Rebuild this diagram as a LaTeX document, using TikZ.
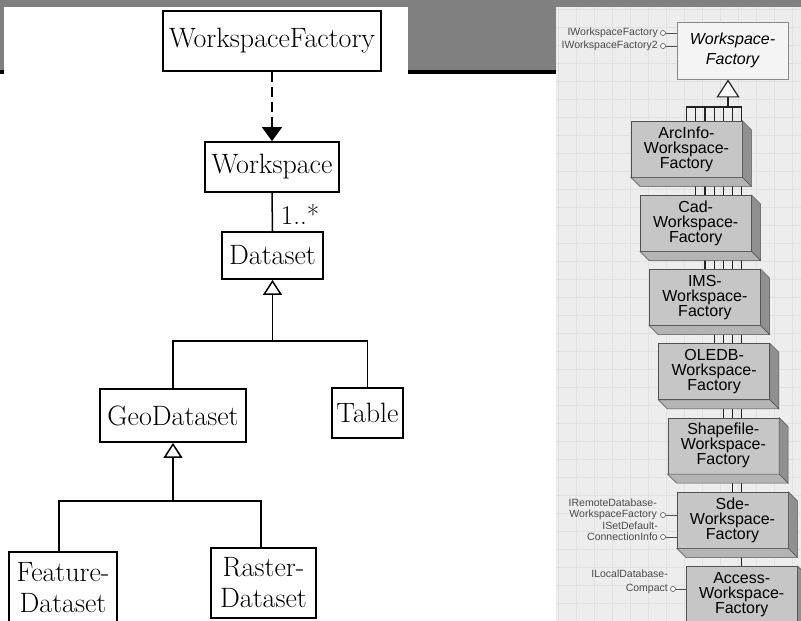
\documentclass[tikz,border=0pt]{standalone}
\usepackage{fontspec}
\newfontfamily\arialf{Liberation Sans}
\usetikzlibrary{arrows.meta}
\pgfdeclarelayer{back}
\pgfdeclarelayer{mid}
\pgfsetlayers{back,mid,main}
\definecolor{bandgray}{HTML}{808080}
\definecolor{gridbg}{HTML}{EDEDED}
\definecolor{gridln}{HTML}{E1E1E1}
\definecolor{facec}{HTML}{C6C6C6}
\definecolor{sidec}{HTML}{909090}
\definecolor{botc}{HTML}{B4B4B4}
\definecolor{edgec}{HTML}{505050}
\definecolor{lblc}{HTML}{4A4A4A}
\definecolor{absfill}{HTML}{F4F4F4}
\definecolor{absedge}{HTML}{8A8A8A}
\definecolor{rlinec}{HTML}{222222}
\begin{document}
\begin{tikzpicture}[x=1pt,y=-1pt,
  umlbox/.style={draw=black, line width=1.8pt, fill=white, inner sep=0pt, align=center,
    font=\fontsize{28}{31}\selectfont},
  umlline/.style={line width=1.5pt, draw=black},
  esribox/.style={draw=edgec, line width=0.6pt, fill=facec, minimum width=111pt,
    minimum height=56pt, inner sep=0pt, align=center, font=\arialf\fontsize{16}{15}\selectfont},
  absbox/.style={draw=absedge, line width=0.9pt, fill=absfill, minimum width=111pt,
    minimum height=57pt, inner sep=0pt, align=center, font=\arialf\itshape\fontsize{16}{19.5}\selectfont},
  rline/.style={line width=1.2pt, draw=rlinec},
  lolli/.style={circle, draw=edgec, fill=white, line width=0.6pt, minimum size=5pt, inner sep=0pt},
  lolline/.style={draw=edgec, line width=0.7pt},
  ilabel/.style={anchor=east, inner sep=0pt, text=lblc, font=\arialf\fontsize{10.5}{11}\selectfont}
]
\useasboundingbox (0,0) rectangle (801,621);
% ---------- backgrounds ----------
\begin{pgfonlayer}{back}
\fill[white] (0,0) rectangle (801,621);
\fill[bandgray] (0,0) rectangle (801,70);
\fill[black] (0,70) rectangle (556,74);
\fill[white] (4,7) rectangle (408,621);
\fill[gridbg] (556,7) rectangle (801,621);
\foreach \x in {558,576,...,792} \draw[gridln, line width=0.6pt] (\x,7) -- (\x,621);
\foreach \y in {9,27,...,621} \draw[gridln, line width=0.6pt] (556,\y) -- (801,\y);
\end{pgfonlayer}
% ---------- left UML diagram ----------
\node[umlbox, minimum width=218pt, minimum height=60pt] (wf) at (272,41) {WorkspaceFactory};
\node[umlbox, minimum width=134pt, minimum height=50pt] (ws) at (272,167) {Workspace};
\node[umlbox, minimum width=101pt, minimum height=47pt] (ds) at (272.5,255.5) {Dataset};
\node[umlbox, minimum width=146pt, minimum height=53pt] (geo) at (173,415.5) {GeoDataset};
\node[umlbox, minimum width=71pt, minimum height=50pt] (tab) at (367.5,413) {Table};
\node[umlbox, minimum width=108pt, minimum height=72pt] (fd) at (63,588) {Feature-\\Dataset};
\node[umlbox, minimum width=105pt, minimum height=70pt] (rd) at (263.5,583) {Raster-\\Dataset};
\node[inner sep=0pt, font=\fontsize{27}{30}\selectfont] (mult) at (300,214) {1..*};

\draw[umlline, dash pattern=on 10pt off 5pt, -{Triangle[length=14pt,width=20pt]}] (wf.south) -- (ws.north);
\draw[umlline] (ws.south) -- (ds.north);
\coordinate (j1) at (272.5,341);
\draw[umlline] (geo.north) |- (j1) -| (tab.north);
\draw[umlline, -{Triangle[fill=white,length=15pt,width=19pt]}] (j1) -- (ds.south);
\coordinate (j2) at (173,501);
\draw[umlline] ([xshift=-4pt]fd.north) |- (j2) -| ([xshift=-2.5pt]rd.north);
\draw[umlline, -{Triangle[fill=white,length=15pt,width=19pt]}] (j2) -- (geo.south);
% ---------- right ESRI diagram ----------
\node[absbox] (rwf) at (732.5,50.5) {Workspace-\\Factory};
\foreach \k/\t in {0/ArcInfo,1/Cad,2/IMS,3/OLEDB,4/Shapefile,5/Sde,6/Access} {
  \node[esribox] (a\k) at ({686.5+9.2*\k},{149+74.2*\k}) {\t-\\Workspace-\\Factory};
}
\foreach \k in {0,...,6} {
  \filldraw[fill=sidec, draw=edgec, line width=0.5pt] (a\k.north east) -- ([shift={(9,9)}]a\k.north east)
     -- ([shift={(9,9)}]a\k.south east) -- (a\k.south east) -- cycle;
  \filldraw[fill=botc, draw=edgec, line width=0.5pt] (a\k.south west) -- ([shift={(9,9)}]a\k.south west)
     -- ([shift={(9,9)}]a\k.south east) -- (a\k.south east) -- cycle;
}
\begin{pgfonlayer}{mid}
\coordinate (rbar) at (728,107);
\draw[rline, line cap=rect] (a0.north |- rbar) -- (a6.north |- rbar);
\foreach \k in {0,...,6} \draw[rline] (a\k.north |- rbar) -- (a\k.north);
\draw[rline, -{Triangle[fill=white,length=18pt,width=23pt]}] (rbar) -- (rbar |- rwf.south);
\end{pgfonlayer}
% lollipops
\node[lolli] (c1) at (663,33) {};
\node[ilabel] (l1) at (658,33) {IWorkspaceFactory};
\node[lolli] (c2) at (663,46) {};
\node[ilabel] (l2) at (658,46) {IWorkspaceFactory2};
\draw[lolline] (c1) -- (c1 -| rwf.west);
\draw[lolline] (c2) -- (c2 -| rwf.west);
\node[ilabel] (l3) at (657,503) {IRemoteDatabase-};
\node[lolli] (c3) at (663,515) {};
\node[ilabel] (l4) at (657,515) {WorkspaceFactory};
\node[ilabel] (l5) at (658,526) {ISetDefault-};
\node[lolli] (c4) at (663,537) {};
\node[ilabel] (l6) at (658,537) {ConnectionInfo};
\draw[lolline] (c3) -- (c3 -| a5.west);
\draw[lolline] (c4) -- (c4 -| a5.west);
\node[ilabel] (l7) at (668,574) {ILocalDatabase-};
\node[lolli] (c5) at (673,589) {};
\node[ilabel] (l8) at (668,589) {Compact};
\draw[lolline] (c5) -- (c5 -| a6.west);
\end{tikzpicture}
\end{document}
